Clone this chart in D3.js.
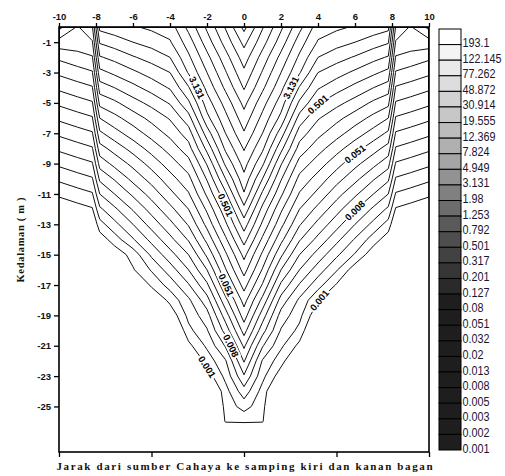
<!DOCTYPE html>
<html><head><meta charset="utf-8">
<script src="https://cdn.jsdelivr.net/npm/d3@7"></script>
<style>body{margin:0;background:#fff}svg{display:block}</style>
</head><body>
<svg id="c" width="505" height="476"></svg>
<script>
// ---------------- data ----------------
const xTickValues = [-10,-8,-6,-4,-2,0,2,4,6,8,10];
const xBottomTicks = [-10,-5,0,5,10];
const yTickValues = [-1,-3,-5,-7,-9,-11,-13,-15,-17,-19,-21,-23,-25];
const legendLabels = ["193.1","122.145","77.262","48.872","30.914","19.555","12.369","7.824","4.949","3.131","1.98","1.253","0.792","0.501","0.317","0.201","0.127","0.08","0.051","0.032","0.02","0.013","0.008","0.005","0.003","0.002","0.001"];
// grid columns (distance, m) and rows (depth, m)
const gridX = [-10,-9,-8.2,-7.8,-7,-6,-5,-4,-3,-2,-1,0,1,2,3,4,5,6,7,7.8,8.2,9,10];
const gridDepth = [0,-1,-2,-3,-4,-5,-6,-7,-8,-9,-10,-11,-12,-13,-14,-15,-16,-17,-18,-19,-20,-21,-22,-23,-24,-25,-26,-27];
// log light intensity, in contour-interval steps (0 = 0.001 level, 26 = 193.1 level)
const logIntensity = [
[12.3,10.9,11.9,16.3,16.6,16.9,17.2,17.5,19.3,21.2,23.1,25.3,23.1,21.2,19.3,17.5,17.2,16.9,16.6,16.3,11.9,10.9,12.3],
[10.6,10.6,10.9,15.1,15.5,16.0,16.4,16.9,18.5,20.5,22.4,24.3,22.4,20.5,18.5,16.9,16.4,16.0,15.5,15.1,10.9,10.6,10.6],
[9.2,9.6,9.9,13.9,14.3,14.9,15.4,16.0,17.8,19.7,21.6,23.5,21.6,19.7,17.8,16.0,15.4,14.9,14.3,13.9,9.9,9.6,9.2],
[8.2,8.6,8.9,12.7,13.2,13.8,14.4,15.0,17.1,19.0,20.9,22.8,20.9,19.0,17.1,15.0,14.4,13.8,13.2,12.7,8.9,8.6,8.2],
[7.2,7.6,7.9,11.5,12.0,12.7,13.4,14.1,15.9,18.3,20.2,22.1,20.2,18.3,15.9,14.1,13.4,12.7,12.0,11.5,7.9,7.6,7.2],
[6.2,6.6,6.9,10.3,10.8,11.6,12.3,13.1,14.8,17.5,19.4,21.3,19.4,17.5,14.8,13.1,12.3,11.6,10.8,10.3,6.9,6.6,6.2],
[5.2,5.6,5.9,9.0,9.7,10.5,11.3,12.1,13.6,16.7,18.7,20.6,18.7,16.7,13.6,12.1,11.3,10.5,9.7,9.0,5.9,5.6,5.2],
[4.2,4.6,4.9,7.8,8.6,9.5,10.4,11.3,12.5,15.5,18.0,19.9,18.0,15.5,12.5,11.3,10.4,9.5,8.6,7.8,4.9,4.6,4.2],
[3.2,3.6,3.9,6.6,7.4,8.4,9.4,10.4,11.6,14.3,17.2,19.1,17.2,14.3,11.6,10.4,9.4,8.4,7.4,6.6,3.9,3.6,3.2],
[2.2,2.6,2.9,5.4,6.3,7.3,8.4,9.5,10.6,13.1,16.2,18.4,16.2,13.1,10.6,9.5,8.4,7.3,6.3,5.4,2.9,2.6,2.2],
[1.2,1.6,1.9,4.2,5.1,6.3,7.4,8.6,9.7,12.1,15.0,17.7,15.0,12.1,9.7,8.6,7.4,6.3,5.1,4.2,1.9,1.6,1.2],
[0.2,0.6,0.9,3.0,4.0,5.2,6.4,7.7,8.9,11.2,13.8,16.9,13.8,11.2,8.9,7.7,6.4,5.2,4.0,3.0,0.9,0.6,0.2],
[-0.8,-0.4,-0.1,1.8,2.8,4.1,5.4,6.7,8.0,10.2,12.7,15.7,12.7,10.2,8.0,6.7,5.4,4.1,2.8,1.8,-0.1,-0.4,-0.8],
[-1.8,-1.4,-1.1,0.6,1.7,3.0,4.4,5.7,7.1,9.3,11.8,14.5,11.8,9.3,7.1,5.7,4.4,3.0,1.7,0.6,-1.1,-1.4,-1.8],
[-2.8,-2.4,-2.1,-0.6,0.5,1.9,3.3,4.7,6.1,8.3,10.8,13.4,10.8,8.3,6.1,4.7,3.3,1.9,0.5,-0.6,-2.1,-2.4,-2.8],
[-3,-3,-3,-1.9,-0.7,0.4,2.2,3.6,5.0,7.2,9.8,12.3,9.8,7.2,5.0,3.6,2.2,0.9,-0.7,-1.9,-3,-3,-3],
[-3,-3,-3,-3,-1.9,-0.1,1.1,2.5,4.0,6.0,8.9,11.4,8.9,6.0,4.0,2.5,1.1,-0.6,-1.9,-3,-3,-3,-3],
[-3,-3,-3,-3,-3,-1.6,0.2,1.4,2.9,4.8,7.9,10.4,7.9,4.8,2.9,1.4,-0.1,-1.6,-3,-3,-3,-3,-3],
[-3,-3,-3,-3,-3,-2.7,-1.2,0.3,1.8,3.6,6.7,9.4,6.7,3.6,1.8,0.1,-1.2,-2.7,-3,-3,-3,-3,-3],
[-3,-3,-3,-3,-3,-3,-2.4,-0.8,1.3,2.6,5.5,8.5,5.5,2.6,1.3,-0.9,-2.4,-3,-3,-3,-3,-3,-3],
[-3,-3,-3,-3,-3,-3,-3,-2.0,0.7,1.9,4.4,7.4,4.4,1.9,0.7,-2.0,-3,-3,-3,-3,-3,-3,-3],
[-3,-3,-3,-3,-3,-3,-3,-3,-0.3,1.2,3.1,6.2,3.1,1.2,-0.3,-3,-3,-3,-3,-3,-3,-3,-3],
[-3,-3,-3,-3,-3,-3,-3,-3,-1.5,0.4,1.9,5.1,1.9,0.4,-1.5,-3,-3,-3,-3,-3,-3,-3,-3],
[-3,-3,-3,-3,-3,-3,-3,-3,-3,-0.6,1.3,3.9,1.3,-0.6,-3,-3,-3,-3,-3,-3,-3,-3,-3],
[-3,-3,-3,-3,-3,-3,-3,-3,-3,-2.0,0.6,2.6,0.6,-2.0,-3,-3,-3,-3,-3,-3,-3,-3,-3],
[-3,-3,-3,-3,-3,-3,-3,-3,-3,-3,0.4,1.4,0.4,-3,-3,-3,-3,-3,-3,-3,-3,-3,-3],
[-3,-3,-3,-3,-3,-3,-3,-3,-3,-3,0.1,0.2,0.1,-3,-3,-3,-3,-3,-3,-3,-3,-3,-3],
[-3,-3,-3,-3,-3,-3,-3,-3,-3,-3,-3,-3,-3,-3,-3,-3,-3,-3,-3,-3,-3,-3,-3]
];
// contour labels: legend label, approx distance, approx depth
const contourLabelText = ["3.131","0.501","0.051","0.008","0.001","3.131","0.501","0.051","0.008","0.001"];
const contourLabelX     = [-2.65,-1.12,-0.92,-0.67,-2.1, 2.67,3.75,5.9,5.9,4.0];
const contourLabelDepth = [-4.3,-11.4,-17.1,-21.2,-22.9, -3.6,-4.5,-8.3,-12.3,-18.0];
const xTitle = "Jarak dari sumber Cahaya ke samping kiri dan kanan bagan";
const yTitle = "Kedalaman ( m )";

// ---------------- chart ----------------
const svg = d3.select("#c");
const P = {l:59, r:429, t:27, b:452};
const x = d3.scaleLinear().domain([-10,10]).range([P.l,P.r]);
const y = d3.scaleLinear().domain([0,-28]).range([P.t,P.b]);

const nx = gridX.length, ny = gridDepth.length;
const nLev = legendLabels.length;
const thresholds = d3.range(nLev);

const contours = d3.contours().size([nx,ny]).thresholds(thresholds)(logIntensity.flat());
const colIdx = d3.scaleLinear().domain(d3.range(nx)).range(gridX);
const rowIdx = d3.scaleLinear().domain(d3.range(ny)).range(gridDepth);
const clamp = (v,lo,hi)=>Math.max(lo,Math.min(hi,v));
function toPx(gx,gy){
  return [x(colIdx(clamp(gx-0.5,0,nx-1))), y(rowIdx(clamp(gy-0.5,0,ny-1)))];
}
const proj = d3.geoTransform({point(a,b){const p=toPx(a,b);this.stream.point(p[0],p[1]);}});
const path = d3.geoPath(proj);

svg.append("clipPath").attr("id","plotclip").append("rect")
  .attr("x",P.l).attr("y",P.t).attr("width",P.r-P.l).attr("height",P.b-P.t);

const gC = svg.append("g").attr("clip-path","url(#plotclip)");
gC.selectAll("path").data(contours).join("path")
  .attr("d",path).attr("fill","none").attr("stroke","#111")
  .attr("stroke-width",1).attr("stroke-linejoin","round");

// contour labels
const gL = svg.append("g").attr("clip-path","url(#plotclip)");
contourLabelText.forEach((txt,i)=>{
  const k = nLev-1-legendLabels.indexOf(txt);
  const c = contours.find(cc=>cc.value===k);
  const tx = x(contourLabelX[i]), ty = y(contourLabelDepth[i]);
  let best=null, bd=Infinity;
  c.coordinates.forEach(poly=>poly.forEach(ring=>{
    const pts = ring.map(p=>toPx(p[0],p[1]));
    pts.forEach((p,j)=>{
      if(p[0]<=P.l+1||p[0]>=P.r-1||p[1]<=P.t+1) return;
      const d=(p[0]-tx)**2+(p[1]-ty)**2;
      if(d<bd){bd=d;best={pts,j};}
    });
  }));
  let px=tx, py=ty, ang=0;
  if(best && bd<900){
    const {pts,j}=best;
    const a=pts[Math.max(0,j-2)], b=pts[Math.min(pts.length-1,j+2)];
    px=pts[j][0]; py=pts[j][1];
    ang=Math.atan2(b[1]-a[1],b[0]-a[0])*180/Math.PI;
    if(ang>90)ang-=180; if(ang<-90)ang+=180;
  }
  const g=gL.append("g").attr("transform",`translate(${px},${py}) rotate(${ang})`);
  const t=g.append("text").text(txt).attr("text-anchor","middle").attr("dy","0.35em")
    .attr("font-family","Liberation Sans, Arial, sans-serif").attr("font-weight","bold")
    .attr("font-size",9.5).attr("fill","#000");
  const w=t.node().getComputedTextLength();
  g.insert("rect","text").attr("x",-w/2-1.5).attr("y",-5).attr("width",w+3).attr("height",10).attr("fill","#fff");
});

// axes
const tickFont = sel=>sel.selectAll("text").attr("font-family","Liberation Sans, Arial, sans-serif")
  .attr("font-weight","bold").attr("font-size",9.5).attr("fill","#111");
const axTop = svg.append("g").attr("transform",`translate(0,${P.t})`)
  .call(d3.axisTop(x).tickValues(xTickValues).tickSize(4).tickSizeOuter(0).tickPadding(3.5).tickFormat(d=>String(d)));
axTop.select(".domain").remove(); tickFont(axTop);
const axLeft = svg.append("g").attr("transform",`translate(${P.l},0)`)
  .call(d3.axisLeft(y).tickValues(yTickValues).tickSize(5).tickSizeOuter(0).tickPadding(3).tickFormat(d=>String(d)));
axLeft.select(".domain").remove(); tickFont(axLeft);
const axBottom = svg.append("g").attr("transform",`translate(0,${P.b})`)
  .call(d3.axisBottom(x).tickValues(xBottomTicks).tickSize(5).tickSizeOuter(0).tickFormat(()=>""));
axBottom.select(".domain").remove();
svg.selectAll(".tick line").attr("stroke","#000").attr("stroke-width",1.3);

svg.append("rect").attr("x",P.l).attr("y",P.t).attr("width",P.r-P.l).attr("height",P.b-P.t)
  .attr("fill","none").attr("stroke","#000").attr("stroke-width",1.6);

// titles
svg.append("text").attr("x",(P.l+P.r)/2+0.5).attr("y",470).attr("text-anchor","middle")
  .attr("font-family","Liberation Serif, serif").attr("font-weight","bold").attr("font-size",11)
  .attr("textLength",376).attr("lengthAdjust","spacing").attr("fill","#1a1208").text(xTitle);
svg.append("text").attr("transform","translate(24,240) rotate(-90)").attr("text-anchor","middle")
  .attr("font-family","Liberation Serif, serif").attr("font-weight","bold").attr("font-size",10.5)
  .attr("textLength",85).attr("lengthAdjust","spacing").attr("fill","#1a1208").text(yTitle);

// legend
const LG = {x:439, w:22, t:29, b:450};
const band = (LG.b-LG.t)/nLev;
const grey = d3.scaleLinear().domain([0,8,12,17,26])
  .range(["#ffffff","#a5a5a5","#5a5a5a","#1e1e1e","#1e1e1e"]);
const gLeg = svg.append("g");
legendLabels.forEach((lab,i)=>{
  gLeg.append("rect").attr("x",LG.x).attr("y",LG.t+i*band).attr("width",LG.w).attr("height",band)
    .attr("fill",grey(i)).attr("stroke","#000").attr("stroke-width",1);
  gLeg.append("text").attr("transform",`translate(${LG.x+LG.w+1.5},${LG.t+(i+1)*band+2.5}) scale(0.8,1)`)
    .attr("font-family","Liberation Sans, Arial, sans-serif").attr("font-size",13.5)
    .attr("fill","#1b1530").text(lab);
});
</script>
</body></html>
